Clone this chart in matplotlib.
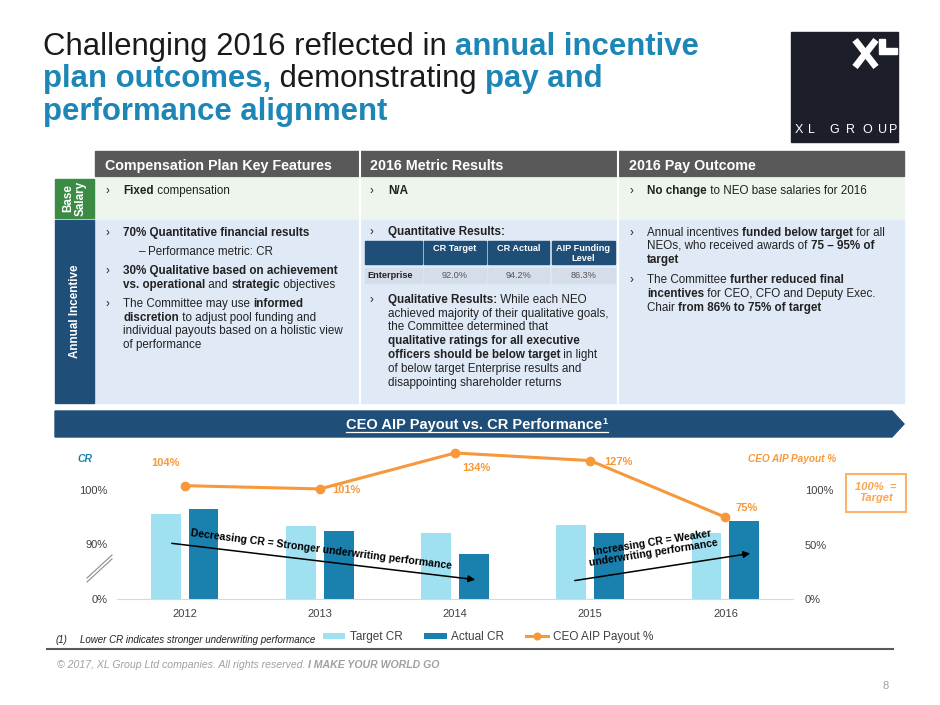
import numpy as np
import matplotlib.pyplot as plt
from matplotlib.patches import Rectangle, Polygon

plt.rcParams['font.family'] = ['Liberation Sans', 'DejaVu Sans']

# chart data
years = ['2012', '2013', '2014', '2015', '2016']
target_cr = [95.5, 93.3, 92.0, 93.5, 92.0]
actual_cr = [96.4, 92.5, 88.2, 92.0, 94.2]
payout = [104, 101, 134, 127, 75]
cr_tick_labels = ['0%', '90%', '100%']
payout_ticks = [0, 50, 100]

# mini table in the slide
mini_cols = ['CR Target', 'CR Actual', 'AIP Funding\nLevel']
mini_vals = ['92.0%', '94.2%', '86.3%']

NAVY = '#1F4E79'
BLUE = '#1C87B6'
DARK = '#1A1A1A'
TXT = '#222222'
ORANGE = '#F7983A'
LIGHTBAR = '#9FE0F1'
DARKBAR = '#1A80AE'

fig = plt.figure(figsize=(9.4, 7.05), dpi=100)
bg = fig.add_axes([0, 0, 1, 1])
bg.set_xlim(0, 940)
bg.set_ylim(705, 0)
bg.axis('off')
rend = fig.canvas.get_renderer()


def text_width(s, size, bold=False, style='normal'):
    kw = dict(fontsize=size, fontweight='bold' if bold else 'normal', fontstyle=style)
    t1 = bg.text(0, 0, '|' + s + '|', **kw)
    t2 = bg.text(0, 0, '||', **kw)
    w = t1.get_window_extent(rend).width - t2.get_window_extent(rend).width
    t1.remove()
    t2.remove()
    return w


def rich(x, y, runs, size=8.4, color=TXT, style='normal'):
    for run in runs:
        s, b = run[0], run[1]
        c = run[2] if len(run) > 2 else color
        bg.text(x, y, s, fontsize=size, fontweight='bold' if b else 'normal',
                fontstyle=style, color=c, va='baseline', ha='left')
        x += text_width(s, size, b, style)
    return x


# ---- title
rich(43, 55, [('Challenging 2016 reflected in ', False, DARK), ('annual incentive', True, BLUE)], size=22.4)
rich(43, 87, [('plan outcomes,', True, BLUE), (' demonstrating ', False, DARK), ('pay and', True, BLUE)], size=22.4)
rich(43, 120, [('performance alignment', True, BLUE)], size=22.4)

# ---- logo
bg.add_patch(Rectangle((791, 32), 107, 110, color='#1C1F2A'))
bg.plot([855, 876], [40, 67], color='white', lw=4.8, solid_capstyle='butt')
bg.plot([855, 876], [67, 40], color='white', lw=4.8, solid_capstyle='butt')
bg.add_patch(Polygon([(879, 39), (885, 39), (885, 48), (897, 48), (897, 54), (879, 54)], color='white'))
for ch, cx in zip('XLGROUP', [799, 811.5, 834, 850.5, 867, 882.5, 893.5]):
    bg.text(cx, 133, ch, color='white', fontsize=9, ha='center', va='baseline')

# ---- table
bg.add_patch(Rectangle((95, 151), 809, 25, color='#595959'))
bg.add_patch(Rectangle((95, 178), 809, 41, color='#EDF5EC'))
bg.add_patch(Rectangle((95, 220), 809, 183, color='#E0EAF6'))
bg.add_patch(Rectangle((55, 179), 39, 39, color='#3B8B45'))
bg.add_patch(Rectangle((55, 220), 39, 183, color=NAVY))
for xs in [359.5, 618]:
    bg.plot([xs, xs], [151, 403], color='white', lw=1.5)
bg.text(74.5, 198, 'Base\nSalary', rotation=90, color='white', fontweight='bold', fontsize=8.4,
        ha='center', va='center', linespacing=1.0)
bg.text(74.5, 311, 'Annual Incentive', rotation=90, color='white', fontweight='bold', fontsize=8.4,
        ha='center', va='center')

hy = 170
rich(105, hy, [('Compensation Plan Key Features', True)], size=10.3, color='white')
rich(370, hy, [('2016 Metric Results', True)], size=10.3, color='white')
rich(629, hy, [('2016 Pay Outcome', True)], size=10.3, color='white')

BUL = '\u203a'


def bullet(bx, tx, y, runs):
    bg.text(bx, y, BUL, fontsize=8.4, color=TXT, va='baseline')
    rich(tx, y, runs)


# row 1
bullet(105, 123, 194, [('Fixed', True), (' compensation', False)])
bullet(370, 388, 194, [('N/A', True)])
bullet(629, 647, 194, [('No change', True), (' to NEO base salaries for 2016', False)])

# row 2 col 1
bullet(105, 123, 236, [('70% Quantitative financial results', True)])
bg.text(139, 255, '\u2013', fontsize=8.4, color=TXT, va='baseline')
rich(148.5, 255, [('Performance metric: CR', False)])
bullet(105, 123, 274, [('30% Qualitative based on achievement', True)])
rich(123, 288, [('vs. operational', True), (' and ', False), ('strategic', True), (' objectives', False)])
bullet(105, 123, 307, [('The Committee may use ', False), ('informed', True)])
rich(123, 321, [('discretion', True), (' to adjust pool funding and', False)])
rich(123, 334, [('individual payouts based on a holistic view', False)])
rich(123, 348, [('of performance', False)])

# row 2 col 2
bullet(370, 388, 235, [('Quantitative Results:', True)])
cells = [(364.7, 422), (424, 486), (488, 549), (551.7, 615)]
for i, (x0, x1) in enumerate(cells):
    bg.add_patch(Rectangle((x0, 241.3), x1 - x0, 23, color=NAVY))
    bg.add_patch(Rectangle((x0, 267.7), x1 - x0, 15, color='#D5DCEA'))
    if i == 0:
        bg.text(x0 + 3, 275.5, 'Enterprise', fontsize=6.6, fontweight='bold', color=TXT,
                va='center', ha='left')
    else:
        bg.text((x0 + x1) / 2, 244, mini_cols[i - 1], fontsize=6.6, fontweight='bold',
                color='white', va='top', ha='center', linespacing=1.15)
        bg.text((x0 + x1) / 2, 275.5, mini_vals[i - 1], fontsize=6.6, color='#555555',
                va='center', ha='center')
bullet(370, 388, 303, [('Qualitative Results:', True), (' While each NEO', False)])
rich(388, 317, [('achieved majority of their qualitative goals,', False)])
rich(388, 330, [('the Committee determined that', False)])
rich(388, 344, [('qualitative ratings for all executive', True)])
rich(388, 358, [('officers should be below target', True), (' in light', False)])
rich(388, 372, [('of below target Enterprise results and', False)])
rich(388, 386, [('disappointing shareholder returns', False)])

# row 2 col 3
bullet(629, 647, 236, [('Annual incentives ', False), ('funded below target', True), (' for all', False)])
rich(647, 249, [('NEOs, who received awards of ', False), ('75 \u2013 95% of', True)])
rich(647, 263, [('target', True)])
bullet(629, 647, 283, [('The Committee ', False), ('further reduced final', True)])
rich(647, 297, [('incentives', True), (' for CEO, CFO and Deputy Exec.', False)])
rich(647, 311, [('Chair ', False), ('from 86% to 75% of target', True)])

# ---- banner
bg.add_patch(Polygon([(55, 411), (892, 411), (904, 424), (892, 437), (55, 437)], color=NAVY))
btxt = 'CEO AIP Payout vs. CR Performance'
w_main = text_width(btxt, 10.5, True)
w_sup = text_width('1', 6.5, True)
bx0 = 477 - (w_main + w_sup) / 2
bg.text(bx0, 429, btxt, fontsize=10.5, fontweight='bold', color='white', va='baseline')
bg.text(bx0 + w_main, 424, '1', fontsize=6.5, fontweight='bold', color='white', va='baseline')
bg.plot([bx0, bx0 + w_main + w_sup], [431.5, 431.5], color='white', lw=0.9)

# ---- chart
ax = fig.add_axes([117 / 940, (705 - 599) / 705, 676 / 940, 159 / 705])
ax.patch.set_visible(False)
x = np.arange(len(years))
b1 = ax.bar(x - 0.14, target_cr, 0.22, color=LIGHTBAR, label='Target CR')
b2 = ax.bar(x + 0.14, actual_cr, 0.22, color=DARKBAR, label='Actual CR')
ax.set_xlim(-0.5, 4.5)
ax.set_ylim(79.85, 109.24)
ax.set_yticks([79.85, 90, 100])
ax.set_yticklabels(cr_tick_labels)
ax.set_xticks(x)
ax.set_xticklabels(years)
ax.tick_params(length=0, labelsize=8, labelcolor='#404040')
ax.tick_params(axis='y', pad=7)
ax.tick_params(axis='x', pad=7)
for s in ['top', 'left', 'right']:
    ax.spines[s].set_visible(False)
ax.spines['bottom'].set_color('#D9D9D9')

ax2 = ax.twinx()
ln, = ax2.plot(x, payout, color=ORANGE, lw=2.2, marker='o', ms=6, label='CEO AIP Payout %')
ax2.set_ylim(0, 145.9)
ax2.set_yticks(payout_ticks)
ax2.set_yticklabels([f'{v}%' for v in payout_ticks])
ax2.tick_params(length=0, labelsize=8, labelcolor='#404040', pad=8.6)
for s in ax2.spines.values():
    s.set_visible(False)

label_offsets = [(-19, 23), (27, -1), (21, -15), (28, -1), (21, 9)]
for i, v in enumerate(payout):
    ax2.annotate(f'{v}%', (x[i], v), xytext=label_offsets[i], textcoords='offset pixels',
                 ha='center', va='center', color=ORANGE, fontweight='bold', fontsize=8)

# trend arrows
ax2.annotate('', xy=(478, 580), xytext=(169, 543), xycoords=bg.transData,
             textcoords=bg.transData,
             arrowprops=dict(arrowstyle='-|>', color='black', lw=1.1, mutation_scale=10),
             annotation_clip=False)
ax2.text(321, 550, 'Decreasing CR = Stronger underwriting performance', transform=bg.transData,
         rotation=-7.2, ha='center', va='center', fontsize=7.6, fontweight='bold',
         rotation_mode='anchor', clip_on=False)
ax2.annotate('', xy=(753, 553), xytext=(572, 581), xycoords=bg.transData,
             textcoords=bg.transData,
             arrowprops=dict(arrowstyle='-|>', color='black', lw=1.1, mutation_scale=10),
             annotation_clip=False)
ax2.text(653, 548, 'Increasing CR = Weaker\nunderwriting performance', transform=bg.transData,
         rotation=9, ha='center', va='center', fontsize=7.6, fontweight='bold',
         rotation_mode='anchor', linespacing=1.05, clip_on=False)

ax2.legend([b1, b2, ln], ['Target CR', 'Actual CR', 'CEO AIP Payout %'], ncol=3,
           loc='center', bbox_to_anchor=(488, 637), bbox_transform=bg.transData,
           frameon=False, fontsize=8.5, handlelength=1.9, handleheight=0.45,
           handletextpad=0.4, columnspacing=1.8, labelcolor='#404040', numpoints=1,
           markerscale=0.8)

# axis captions
bg.text(77, 462, 'CR', color=DARKBAR, fontsize=7.5, fontweight='bold', fontstyle='italic',
        va='baseline')
bg.text(836, 462, 'CEO AIP Payout %', color=ORANGE, fontsize=7.2, fontweight='bold',
        fontstyle='italic', va='baseline', ha='right')
bg.add_patch(Rectangle((846, 473.5), 60, 38, fill=False, ec='#F9B36B', lw=1.5))
bg.text(876, 492.5, '100%  =\nTarget', color='#F9A550', fontsize=8, fontweight='bold',
        fontstyle='italic', ha='center', va='center', linespacing=1.1)

# axis break marks
bg.plot([87, 112], [582, 559], color='#8C8C8C', lw=0.8)
bg.plot([87, 112], [578, 555], color='#8C8C8C', lw=0.8)

# ---- footnote and footer
bg.text(56, 643, '(1)', fontsize=7, fontstyle='italic', color=TXT, va='baseline')
bg.text(80, 643, 'Lower CR indicates stronger underwriting performance', fontsize=7,
        fontstyle='italic', color=TXT, va='baseline')
bg.plot([47, 893], [649, 649], color='#595959', lw=1.5)
rich(57, 668, [('\u00a9 2017, XL Group Ltd companies. All rights reserved. ', False),
               ('I MAKE YOUR WORLD GO', True)], size=7.6, color='#A0A0A0', style='italic')
bg.text(886, 689, '8', fontsize=8, color='#A0A0A0', va='baseline', ha='center')

fig.savefig('out.png', dpi=100)
